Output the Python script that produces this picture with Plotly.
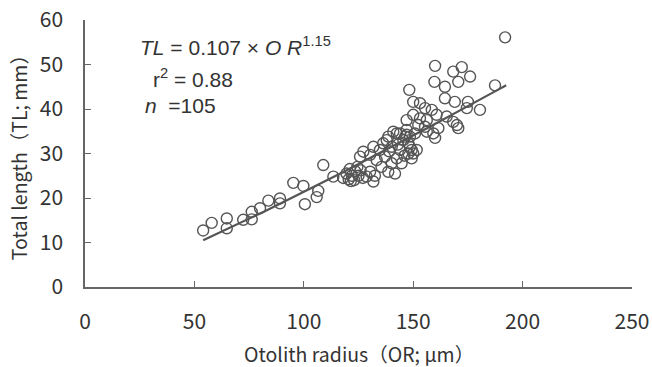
import numpy as np
import plotly.graph_objects as go

# Observed data: otolith radius (um) and total length (mm)
otolith_radius = [
    54, 57.9, 64.8, 64.8, 72.3, 76.2, 76.2, 80, 83.8, 89.1, 89.1, 95.2, 99.8, 100.5, 106.6, 105.9, 108.9, 113.5,
    118, 119.5, 120.5, 121, 122, 123, 123.5, 124.5, 125, 126, 127, 121.5,
    128.7, 131.8, 130.3, 132.5,
    125.7, 127.2, 130.3,
    133.3, 137.1, 140.2, 142.5, 144.7, 147.8, 149.3, 151.6,
    138.6, 141.7,
    131.8, 134.8, 136.3, 138.6, 142.5, 145.5, 148.5, 150.8,
    137.9, 140.2, 144, 148.5, 150,
    140.9, 144, 147,
    156.2, 159.2, 161.5,
    147, 146.3, 147.8, 149.3,
    152.3, 155.4,
    147, 150, 153.1, 156.2,
    165.3, 168.3, 170, 170.6,
    160,
    150, 153.1, 155.4, 158.5, 160.7,
    148.2,
    160, 159.7, 164.5, 164.5, 169, 175, 174.5, 180.5, 187.4,
    168.3, 172.2, 176, 170.6,
    192,
    135.5, 139, 143, 146,
]
total_length = [
    12.7, 14.4, 15.4, 13.2, 15.1, 16.9, 15.2, 17.7, 19.4, 19.9, 18.8, 23.4, 22.7, 18.6, 21.6, 20.2, 27.4, 24.8,
    24.5, 25.5, 24.2, 26.5, 25, 24, 26, 27, 25, 26.2, 24.5, 23.8,
    24.8, 23.7, 25.9, 25,
    29.3, 30.4, 29.7,
    28.5, 29.3, 27.8, 28.9, 27.8, 30, 28.9, 30.8,
    25.9, 25.5,
    31.5, 30.8, 32.3, 33.8, 34.5, 33, 33.8, 34.5,
    33, 31.5, 30.8, 31.5, 30,
    34.9, 34.5, 34.2,
    34.9, 34.5, 35.7,
    35.3, 33.8, 32.3, 30.8,
    36.4, 36,
    37.5, 38.7, 37.9, 37.5,
    38.3, 37.1, 36.4, 35.7,
    33.5,
    41.6, 41.3, 40.2, 39.8, 38.7,
    44.3,
    49.7, 46.1, 45, 42.4, 41.6, 41.6, 40.2, 39.8, 45.3,
    48.4, 49.4, 47.3, 46.1,
    56.1,
    27, 30.5, 32, 29.5,
]

# Fitted power regression TL = a * OR^b
fit_a = 0.107
fit_b = 1.15
fit_range = [54, 192.5]

x_ticks = [0, 50, 100, 150, 200, 250]
y_ticks = [0, 10, 20, 30, 40, 50, 60]

fit_x = np.linspace(fit_range[0], fit_range[1], 100)
fit_y = fit_a * fit_x ** fit_b

GRAY = "#555555"
AXIS = "#666666"
TXT = "#333333"
TICKFONT = dict(family="Noto Sans CJK JP, Liberation Sans, sans-serif", size=21, color=TXT)
EQFONT = dict(family="Liberation Sans, Arial, sans-serif", size=21, color=TXT)
TITLEFONT = dict(family="Noto Sans CJK JP, sans-serif", size=19.5, color=TXT)

fig = go.Figure()
fig.add_trace(go.Scatter(
    x=otolith_radius, y=total_length, mode="markers",
    marker=dict(symbol="circle-open", size=11, color=GRAY, line=dict(width=1.4, color=GRAY)),
    showlegend=False, hoverinfo="skip",
))
fig.add_trace(go.Scatter(
    x=fit_x, y=fit_y, mode="lines",
    line=dict(color=GRAY, width=2.2),
    showlegend=False, hoverinfo="skip",
))

fig.update_layout(
    width=652, height=367,
    margin=dict(l=85, r=20, t=20, b=80, autoexpand=False),
    paper_bgcolor="white", plot_bgcolor="white",
    xaxis=dict(
        range=[0, 250], tickvals=x_ticks, ticktext=[str(v) for v in x_ticks],
        showgrid=False, zeroline=False, showline=True, linecolor=AXIS, linewidth=1.5,
        ticks="inside", ticklen=6, tickcolor=AXIS, tickwidth=1.2,
        tickfont=TICKFONT, ticklabelstandoff=15, automargin=False,
        ticklabeloverflow="allow",
    ),
    yaxis=dict(
        range=[0, 60], tickvals=y_ticks, ticktext=[str(v) for v in y_ticks],
        showgrid=False, zeroline=False, showline=True, linecolor=AXIS, linewidth=1.5,
        ticks="inside", ticklen=6, tickcolor=AXIS, tickwidth=1.2,
        tickfont=TICKFONT, ticklabelstandoff=16, automargin=False,
        ticklabeloverflow="allow",
    ),
    annotations=[
        dict(text="<i>TL</i> = 0.107 × <i>O R</i><sup>1.15</sup>", x=24.2, y=54.2, xref="x", yref="y",
             xanchor="left", yanchor="middle", showarrow=False, font=EQFONT),
        dict(text="r<sup>2</sup> = 0.88", x=30, y=47, xref="x", yref="y",
             xanchor="left", yanchor="middle", showarrow=False, font=EQFONT),
        dict(text="<i>n</i>  =105", x=26.5, y=40.7, xref="x", yref="y",
             xanchor="left", yanchor="middle", showarrow=False, font=EQFONT),
        dict(text="Otolith radius（OR; μm）", x=0.5, y=-0.248, xref="paper", yref="paper",
             xanchor="center", yanchor="middle", showarrow=False, font=TITLEFONT),
        dict(text="Total length（TL; mm）", x=-0.1225, y=0.505, xref="paper", yref="paper",
             xanchor="center", yanchor="middle", showarrow=False, textangle=-90, font=TITLEFONT),
    ],
)

fig.write_html("out.html", config={"displayModeBar": False},
               post_script="document.body.style.margin='0';")
